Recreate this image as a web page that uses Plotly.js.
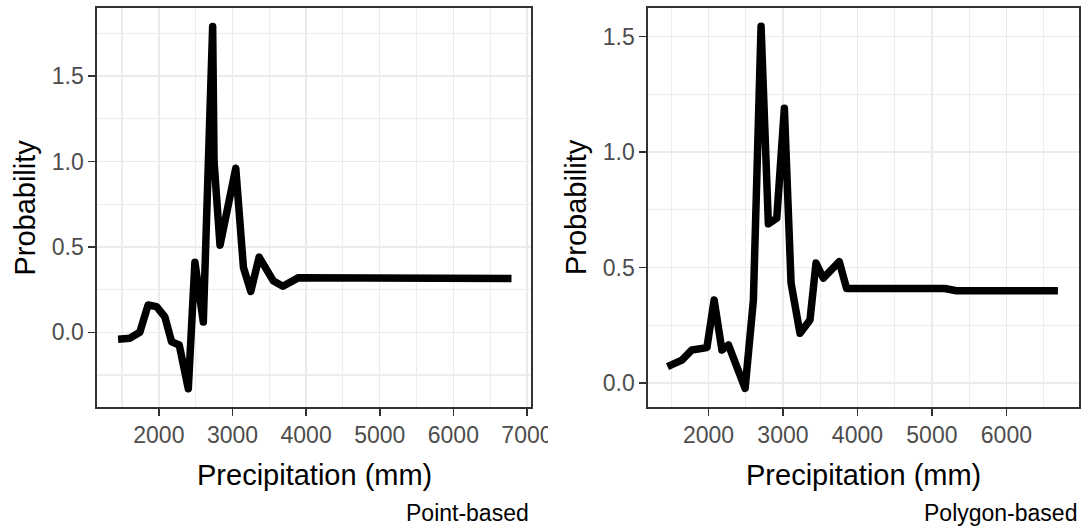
<!DOCTYPE html>
<html>
<head>
<meta charset="utf-8">
<script src="https://cdn.plot.ly/plotly-3.0.1.min.js"></script>
<style>
  html, body { margin: 0; padding: 0; background: #fff; }
  #wrap { position: relative; width: 1085px; height: 528px; overflow: hidden; }
  #left { position: absolute; left: 0; top: 0; width: 548px; height: 528px; overflow: hidden; }
  #right { position: absolute; left: 548px; top: 0; width: 537px; height: 528px; overflow: hidden; }
</style>
</head>
<body>
<div id="wrap">
  <div id="left"></div>
  <div id="right"></div>
</div>
<script>
// Point-based panel
const pointPrecip = [1446, 1605, 1741, 1854, 1969, 2082, 2173, 2277, 2400, 2490, 2604, 2731, 2750, 2831, 3045, 3149, 3249, 3362, 3557, 3685, 3898, 4920, 5000, 6790];
const pointProb   = [-0.04, -0.035, 0.0, 0.16, 0.15, 0.09, -0.055, -0.074, -0.33, 0.41, 0.06, 1.79, 1.0, 0.51, 0.96, 0.38, 0.24, 0.44, 0.30, 0.27, 0.32, 0.32, 0.315, 0.315];
// Polygon-based panel
const polyPrecip = [1450, 1643, 1777, 1979, 2076, 2180, 2268, 2492, 2603, 2706, 2804, 2917, 3019, 3109, 3229, 3363, 3444, 3542, 3756, 3855, 5173, 5330, 6692];
const polyProb   = [0.072, 0.10, 0.144, 0.154, 0.36, 0.144, 0.166, -0.022, 0.36, 1.545, 0.69, 0.714, 1.19, 0.433, 0.216, 0.274, 0.52, 0.455, 0.526, 0.41, 0.41, 0.40, 0.40];

const leftXTicks = [2000, 3000, 4000, 5000, 6000, 7000];
const rightXTicks = [2000, 3000, 4000, 5000, 6000];
const leftYTicks = [0, 0.5, 1.0, 1.5];
const rightYTicks = [0, 0.5, 1.0, 1.5];
const yTitle = "Probability";
const xTitle = "Precipitation (mm)";
const captions = ["Point-based", "Polygon-based"];

const FONT = "Liberation Sans, Arial, sans-serif";

function axisX(range, ticks) {
  return {
    range: range, tickmode: 'array', tickvals: ticks, ticktext: ticks.map(String),
    showgrid: true, gridcolor: '#EBEBEB', gridwidth: 1.5,
    minor: { dtick: 500, tick0: 1500, showgrid: true, gridcolor: '#EDEDED', gridwidth: 1.1, ticklen: 0 },
    ticks: 'outside', ticklen: 7, tickwidth: 1.6, tickcolor: '#333333',
    ticklabeloverflow: 'allow',
    showline: true, mirror: true, linecolor: '#333333', linewidth: 1.6,
    zeroline: false,
    tickfont: { family: FONT, size: 23, color: '#4D4D4D' },
    fixedrange: true
  };
}
function axisY(range, ticks) {
  return {
    range: range, tickmode: 'array', tickvals: ticks, ticktext: ticks.map(v => v.toFixed(1)),
    showgrid: true, gridcolor: '#EBEBEB', gridwidth: 1.5,
    minor: { dtick: 0.25, tick0: 0.25, showgrid: true, gridcolor: '#EDEDED', gridwidth: 1.1, ticklen: 0 },
    ticks: 'outside', ticklen: 7, tickwidth: 1.6, tickcolor: '#333333',
    showline: true, mirror: true, linecolor: '#333333', linewidth: 1.6,
    zeroline: false,
    tickfont: { family: FONT, size: 23, color: '#4D4D4D' },
    fixedrange: true
  };
}
function annots(yTitleX, caption) {
  return [
    { text: yTitle, xref: 'paper', yref: 'paper', x: yTitleX, y: 0.5, textangle: -90,
      xanchor: 'center', yanchor: 'middle', showarrow: false,
      font: { family: FONT, size: 29, color: '#000000' } },
    { text: xTitle, xref: 'paper', yref: 'paper', x: 0.5, y: 0, yshift: -50,
      xanchor: 'center', yanchor: 'top', showarrow: false,
      font: { family: FONT, size: 29, color: '#000000' } },
    { text: caption, xref: 'paper', yref: 'paper', x: 1, y: 0, yshift: -91,
      xanchor: 'right', yanchor: 'top', showarrow: false,
      font: { family: FONT, size: 23, color: '#000000' } }
  ];
}

const lineStyle = { color: '#000000', width: 7.5 };

Plotly.newPlot('left', [{
  x: pointPrecip, y: pointProb, type: 'scatter', mode: 'lines', line: lineStyle, hoverinfo: 'skip'
}], {
  width: 548, height: 528,
  margin: { l: 97, r: 17, t: 8, b: 121 },
  paper_bgcolor: '#ffffff', plot_bgcolor: '#ffffff',
  showlegend: false,
  xaxis: axisX([1160, 7055], leftXTicks),
  yaxis: axisY([-0.437, 1.898], leftYTicks),
  annotations: annots(-0.168, captions[0])
}, { staticPlot: true }).then(fixJoins);

Plotly.newPlot('right', [{
  x: polyPrecip, y: polyProb, type: 'scatter', mode: 'lines', line: lineStyle, hoverinfo: 'skip'
}], {
  width: 537, height: 528,
  margin: { l: 100, r: 6, t: 8, b: 121 },
  paper_bgcolor: '#ffffff', plot_bgcolor: '#ffffff',
  showlegend: false,
  xaxis: axisX([1188, 6975], rightXTicks),
  yaxis: axisY([-0.103, 1.624], rightYTicks),
  annotations: annots(-0.168, captions[1])
}, { staticPlot: true }).then(fixJoins);

function fixJoins(gd) {
  gd.querySelectorAll('.scatterlayer path.js-line').forEach(p => {
    p.style.strokeLinejoin = 'round';
  });
}
</script>
</body>
</html>
